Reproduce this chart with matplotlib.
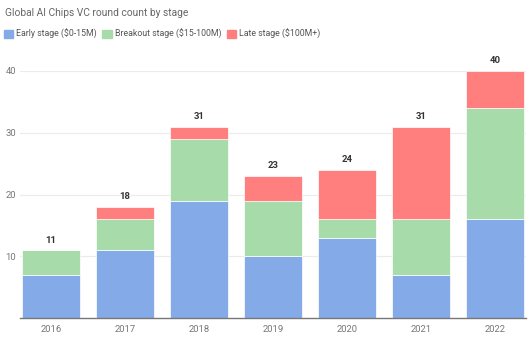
import matplotlib
matplotlib.use("Agg")
import matplotlib.pyplot as plt
import numpy as np

plt.rcParams['font.family'] = ['Roboto', 'DejaVu Sans']

years = ['2016', '2017', '2018', '2019', '2020', '2021', '2022']
early = [7, 11, 19, 10, 13, 7, 16]
breakout = [4, 5, 10, 9, 3, 9, 18]
late = [0, 2, 2, 4, 8, 15, 6]
series_names = ['Early stage ($0-15M)', 'Breakout stage ($15-100M)', 'Late stage ($100M+)']
colors = ['#85aae8', '#a7dba9', '#ff7f7f']
yticks = [10, 20, 30, 40]

fig = plt.figure(figsize=(5.29, 3.39), dpi=100)
ax = fig.add_axes([20/529, 1-318/339, 506/529, (318-71)/339])

x = np.arange(len(years))
bottom = np.zeros(len(years))
for vals, c in zip([early, breakout, late], colors):
    ax.bar(x, vals, width=0.78, bottom=bottom, color=c, edgecolor='white', linewidth=0.5, zorder=2)
    bottom = bottom + np.array(vals)

for xi, tot in zip(x, bottom):
    ax.text(xi, tot + 0.9, f'{int(tot)}', ha='center', va='bottom', fontsize=6.8, fontweight='bold', color='#333333')

ax.set_xlim(-0.42, 6.42)
ax.set_ylim(0, 40)
ax.set_yticks(yticks)
ax.set_yticklabels([str(t) for t in yticks])
ax.set_xticks(x)
ax.set_xticklabels(years)
ax.tick_params(axis='both', length=0, labelsize=6.8, colors='#777777')
ax.tick_params(axis='y', pad=3)
ax.tick_params(axis='x', pad=5)
ax.grid(axis='y', color='#ebebeb', linewidth=0.8, zorder=0)
for s in ['top', 'right', 'left']:
    ax.spines[s].set_visible(False)
ax.spines['bottom'].set_color('#777777')
ax.spines['bottom'].set_linewidth(1)
ax.spines['bottom'].set_zorder(3)

fig.text(5/529, 1-13/339, 'Global AI Chips VC round count by stage', fontsize=7.4, color='#666666', va='center', ha='left')

handles = [plt.Rectangle((0, 0), 1, 1, color=c) for c in colors]
fig.legend(handles, series_names, loc='center left', bbox_to_anchor=(1/529, 1-34/339), ncol=3,
           frameon=False, fontsize=6.3, handlelength=1.1, handleheight=1.1, handletextpad=0.35,
           columnspacing=0.6, labelcolor='#555555', borderaxespad=0, borderpad=0.3)

fig.savefig('out.png', dpi=100)
